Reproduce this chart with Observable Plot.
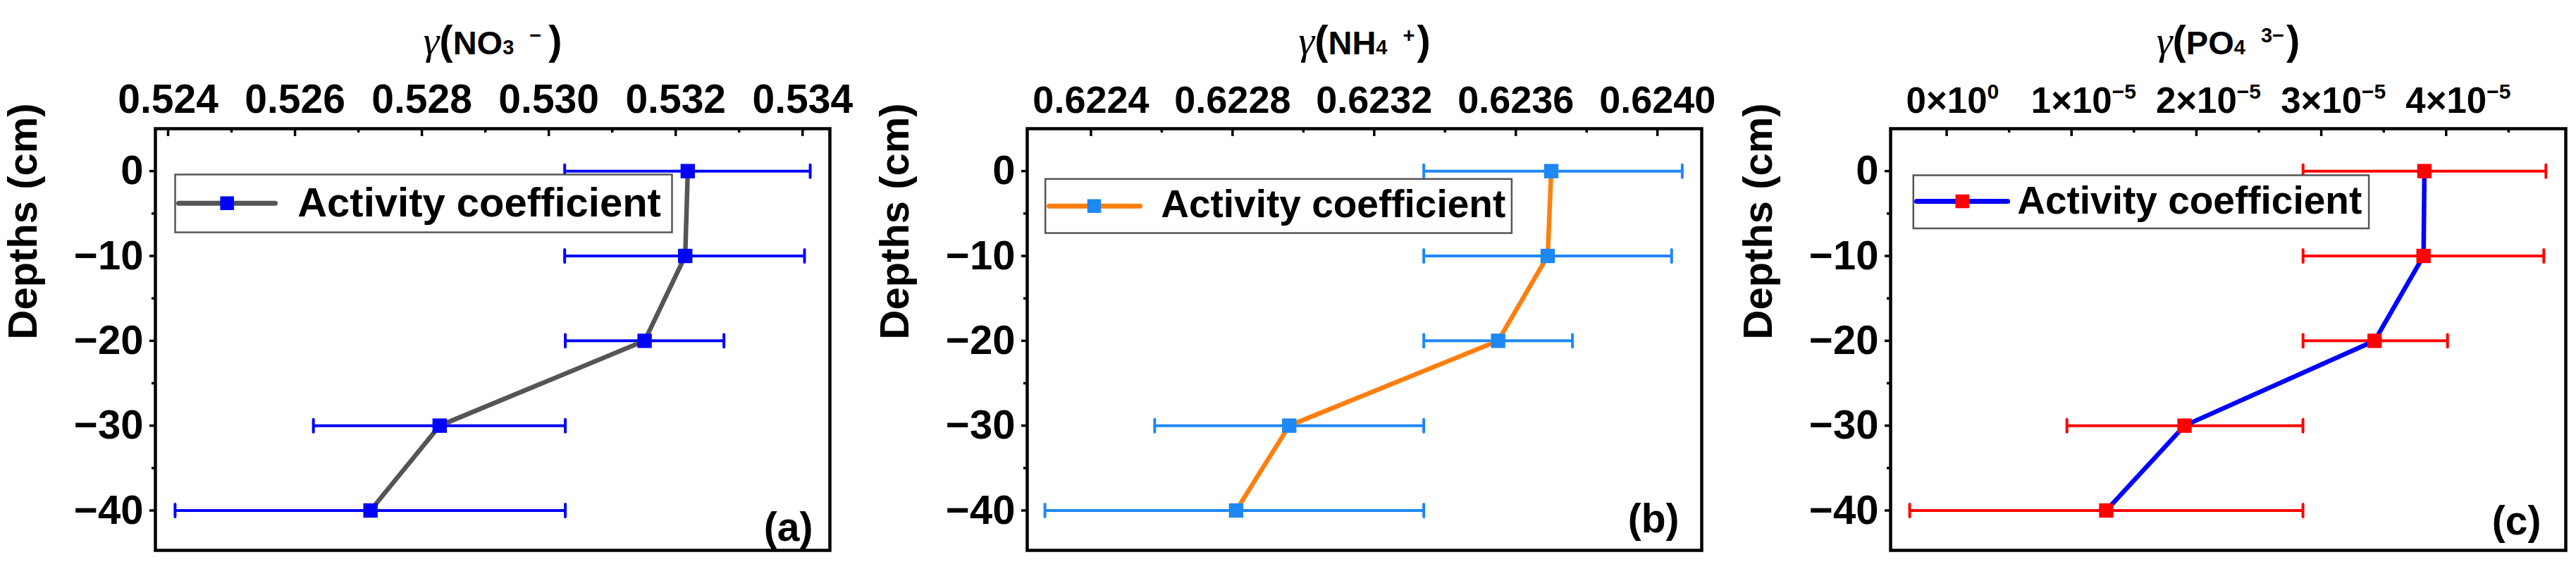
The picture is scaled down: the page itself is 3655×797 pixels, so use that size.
<!DOCTYPE html>
<html><head><meta charset="utf-8">
<script src="https://cdn.jsdelivr.net/npm/d3@7"></script>
<script src="https://cdn.jsdelivr.net/npm/@observablehq/plot@0.6"></script>
<style>
html,body{margin:0;padding:0;background:#fff;}
#root{position:relative;width:3655px;height:797px;overflow:hidden;background:#fff;}
.panel{position:absolute;top:0;}
</style></head><body><div id="root"></div>
<script>
// ---------- data ----------
const depths = [0, -10, -20, -30, -40];

const no3Value = [0.53219, 0.53215, 0.53151, 0.52828, 0.52719];
const no3Low   = [0.53025, 0.53025, 0.53026, 0.52629, 0.52411];
const no3High  = [0.53412, 0.53403, 0.53276, 0.53026, 0.53026];

const nh4Value = [0.62370, 0.62369, 0.62355, 0.62296, 0.62281];
const nh4Low   = [0.62334, 0.62334, 0.62334, 0.62258, 0.62227];
const nh4High  = [0.62407, 0.62404, 0.62376, 0.62334, 0.62334];

const po4Value = [3.826e-5, 3.819e-5, 3.427e-5, 1.905e-5, 1.278e-5];
const po4Low   = [2.854e-5, 2.854e-5, 2.854e-5, 0.963e-5, -0.296e-5];
const po4High  = [4.799e-5, 4.782e-5, 4.011e-5, 2.853e-5, 2.853e-5];

const depthTicks = [0, -10, -20, -30, -40];
const depthTickLabels = ["0", "−10", "−20", "−30", "−40"];
const depthMinorTicks = [-5, -15, -25, -35];

const no3Ticks = [0.524, 0.526, 0.528, 0.530, 0.532, 0.534];
const no3TickLabels = ["0.524", "0.526", "0.528", "0.530", "0.532", "0.534"];
const no3MinorTicks = [0.525, 0.527, 0.529, 0.531, 0.533];

const nh4Ticks = [0.6224, 0.6228, 0.6232, 0.6236, 0.6240];
const nh4TickLabels = ["0.6224", "0.6228", "0.6232", "0.6236", "0.6240"];
const nh4MinorTicks = [0.6226, 0.6230, 0.6234, 0.6238];

const po4Ticks = [0, 1e-5, 2e-5, 3e-5, 4e-5];
const po4TickMantissa = ["0×10", "1×10", "2×10", "3×10", "4×10"];
const po4TickExponent = ["0", "−5", "−5", "−5", "−5"];
const po4MinorTicks = [0.5e-5, 1.5e-5, 2.5e-5, 3.5e-5, 4.5e-5];

const ionNames = ["NO", "NH", "PO"];
const ionSubscripts = ["3", "4", "4"];
const ionCharges = ["−", "+", "3−"];
const panelLetters = ["(a)", "(b)", "(c)"];
const legendLabel = "Activity coefficient";
const yLabel = "Depths (cm)";

// ---------- layout / style ----------
const FONT = "'Liberation Sans', Arial, Helvetica, sans-serif";
const SERIF = "'Liberation Serif', 'Times New Roman', serif";
const NS = "http://www.w3.org/2000/svg";

const panels = [
  {left: 0, width: 1218, mr: 41, domain: [0.5238, 0.53443],
   value: no3Value, low: no3Low, high: no3High,
   ticks: no3Ticks, minor: no3MinorTicks, fmt: d => no3TickLabels[no3Ticks.indexOf(d)], tickFont: 57,
   lineColor: "#555555", markColor: "#0000ff",
   legend: {box: [28, 65, 224, 451], lineDx: 33, lineLen: 137, lineDy: 105.7, markDx: 101.7, textDx: 201.7, textDy: 105.5, font: 58},
   letter: {dx: -24, dy: -14}, closeDx: 10},
  {left: 1237, width: 1218, mr: 41, domain: [0.62222, 0.624125],
   value: nh4Value, low: nh4Low, high: nh4High,
   ticks: nh4Ticks, minor: nh4MinorTicks, fmt: d => nh4TickLabels[nh4Ticks.indexOf(d)], tickFont: 54,
   lineColor: "#ff7f0e", markColor: "#1e88f5",
   legend: {box: [25.7, 71.3, 269.6, 450], lineDx: 31, lineLen: 129, lineDy: 109.7, markDx: 95, textDx: 189.7, textDy: 108, font: 55},
   letter: {dx: -32, dy: -26}, closeDx: 3},
  {left: 2462, width: 1193, mr: 15, domain: [-0.449e-5, 4.958e-5],
   value: po4Value, low: po4Low, high: po4High,
   ticks: po4Ticks, minor: po4MinorTicks, fmt: d => { const i = po4Ticks.indexOf(d); return po4TickMantissa[i] + "|" + po4TickExponent[i]; }, tickFont: 51,
   lineColor: "#0000ff", markColor: "#ff0000",
   legend: {box: [32.3, 66, 279.4, 456.6], lineDx: 37, lineLen: 129, lineDy: 103, markDx: 101.8, textDx: 179.7, textDy: 103, font: 55},
   letter: {dx: -35, dy: -23}, closeDx: 3}
];

const H = 797, MT = 182, MB = 17, ML = 220;
const frameH = H - MT - MB;
const segShape = {draw(ctx, l) { ctx.moveTo(0, 0); ctx.lineTo(0, -l); }};

const root = document.getElementById("root");

panels.forEach((p, pi) => {
  const rows = depths.map((d, i) => ({depth: d, value: p.value[i], low: p.low[i], high: p.high[i]}));
  const L = p.legend;
  const svg = Plot.plot({
    width: p.width, height: H,
    marginLeft: ML, marginRight: p.mr, marginTop: MT, marginBottom: MB,
    x: {domain: p.domain, label: null},
    y: {domain: [-44.7, 5], label: null},
    style: {fontFamily: FONT, background: "white", color: "black", overflow: "visible"},
    marks: [
      Plot.ruleY(rows, {y: "depth", x1: "low", x2: "high", stroke: p.markColor, strokeWidth: 4}),
      Plot.vector(rows, {x: "low", y: "depth", length: 18, rotate: 0, anchor: "middle", shape: segShape, stroke: p.markColor, strokeWidth: 4}),
      Plot.vector(rows, {x: "high", y: "depth", length: 18, rotate: 0, anchor: "middle", shape: segShape, stroke: p.markColor, strokeWidth: 4}),
      Plot.line(rows, {x: "value", y: "depth", stroke: p.lineColor, strokeWidth: 6.5}),
      Plot.dot(rows, {x: "value", y: "depth", symbol: "square", r: 11.5, fill: p.markColor, stroke: "none"}),
      // legend
      Plot.frame({fill: "white", stroke: "#555", strokeWidth: 2.5,
        insetLeft: L.box[0], insetTop: L.box[1], insetRight: L.box[2], insetBottom: L.box[3]}),
      Plot.vector([legendLabel], {frameAnchor: "top-left", dx: L.lineDx, dy: L.lineDy, length: L.lineLen, rotate: 90, anchor: "start",
        shape: segShape, stroke: p.lineColor, strokeWidth: 7, strokeLinecap: "round"}),
      Plot.dot([legendLabel], {frameAnchor: "top-left", dx: L.markDx, dy: L.lineDy, symbol: "square", r: 11, fill: p.markColor, stroke: "none"}),
      Plot.text([legendLabel], {text: d => d, frameAnchor: "top-left", dx: L.textDx, dy: L.textDy, textAnchor: "start", lineAnchor: "middle",
        fontSize: L.font, fontWeight: "bold", fill: "black"}),
      // frame and axes
      Plot.frame({stroke: "black", strokeWidth: 4.5}),
      Plot.tickX(p.ticks, {x: d => d, insetBottom: frameH - 11, stroke: "black", strokeWidth: 3.5}),
      Plot.tickX(p.minor, {x: d => d, insetBottom: frameH - 6, stroke: "black", strokeWidth: 3.5}),
      Plot.axisX({anchor: "top", ticks: p.ticks, tickSize: 0, tickPadding: 23, tickFormat: p.fmt,
        fontSize: p.tickFont, fontWeight: "bold", label: null}),
      Plot.axisY({ticks: depthTicks, tickSize: 8, tickPadding: 9, strokeWidth: 3.5,
        tickFormat: d => depthTickLabels[depthTicks.indexOf(d)], fontSize: 58, fontWeight: "bold", label: null}),
      Plot.axisY({ticks: depthMinorTicks, tickSize: 5, strokeWidth: 3.5, tickFormat: () => "", label: null}),
      Plot.text([panelLetters[pi]], {text: d => d, frameAnchor: "bottom-right", dx: p.letter.dx, dy: p.letter.dy,
        textAnchor: "end", lineAnchor: "bottom", fontSize: 57, fontWeight: "bold"}),
      Plot.text(["__TITLE__"], {text: d => d, frameAnchor: "top", dy: -106, lineAnchor: "bottom",
        fontSize: 47, fontWeight: "bold"}),
      Plot.text([yLabel], {text: d => d, frameAnchor: "left", dx: -187, rotate: -90, lineAnchor: "middle",
        fontSize: 58, fontWeight: "bold"})
    ]
  });
  const div = document.createElement("div");
  div.className = "panel";
  div.style.left = p.left + "px";
  div.appendChild(svg);
  root.appendChild(div);

  // Title with italic gamma, subscript and superscript
  const t = [...svg.querySelectorAll("text")].find(e => e.textContent === "__TITLE__");
  if (t) {
    t.textContent = "";
    const add = (s, attrs) => {
      const ts = document.createElementNS(NS, "tspan");
      ts.textContent = s;
      for (const k in attrs) ts.setAttribute(k, attrs[k]);
      t.appendChild(ts);
      return ts;
    };
    add("γ", {"font-family": SERIF, "font-style": "italic", "font-weight": "normal", "font-size": "58px"});
    add("(", {"font-size": "58px"});
    add(ionNames[pi], {"font-size": "47px"});
    add(ionSubscripts[pi], {"font-size": "29px"});
    add(ionCharges[pi], {"font-size": "29px", dx: 22, dy: -17});
    add(")", {"font-size": "58px", dx: p.closeDx, dy: 17});
  }

  // Scientific tick labels with superscript exponents
  [...svg.querySelectorAll("text")].filter(e => e.textContent.includes("|")).forEach(e => {
    const [base, exp] = e.textContent.split("|");
    e.textContent = "";
    const b = document.createElementNS(NS, "tspan");
    b.textContent = base;
    e.appendChild(b);
    const s = document.createElementNS(NS, "tspan");
    s.textContent = exp;
    s.setAttribute("font-size", "30px");
    s.setAttribute("dy", -20);
    e.appendChild(s);
    const w = b.getComputedTextLength();
    e.setAttribute("text-anchor", "start");
    e.setAttribute("x", -w / 2);
  });
});
</script>
</body></html>
